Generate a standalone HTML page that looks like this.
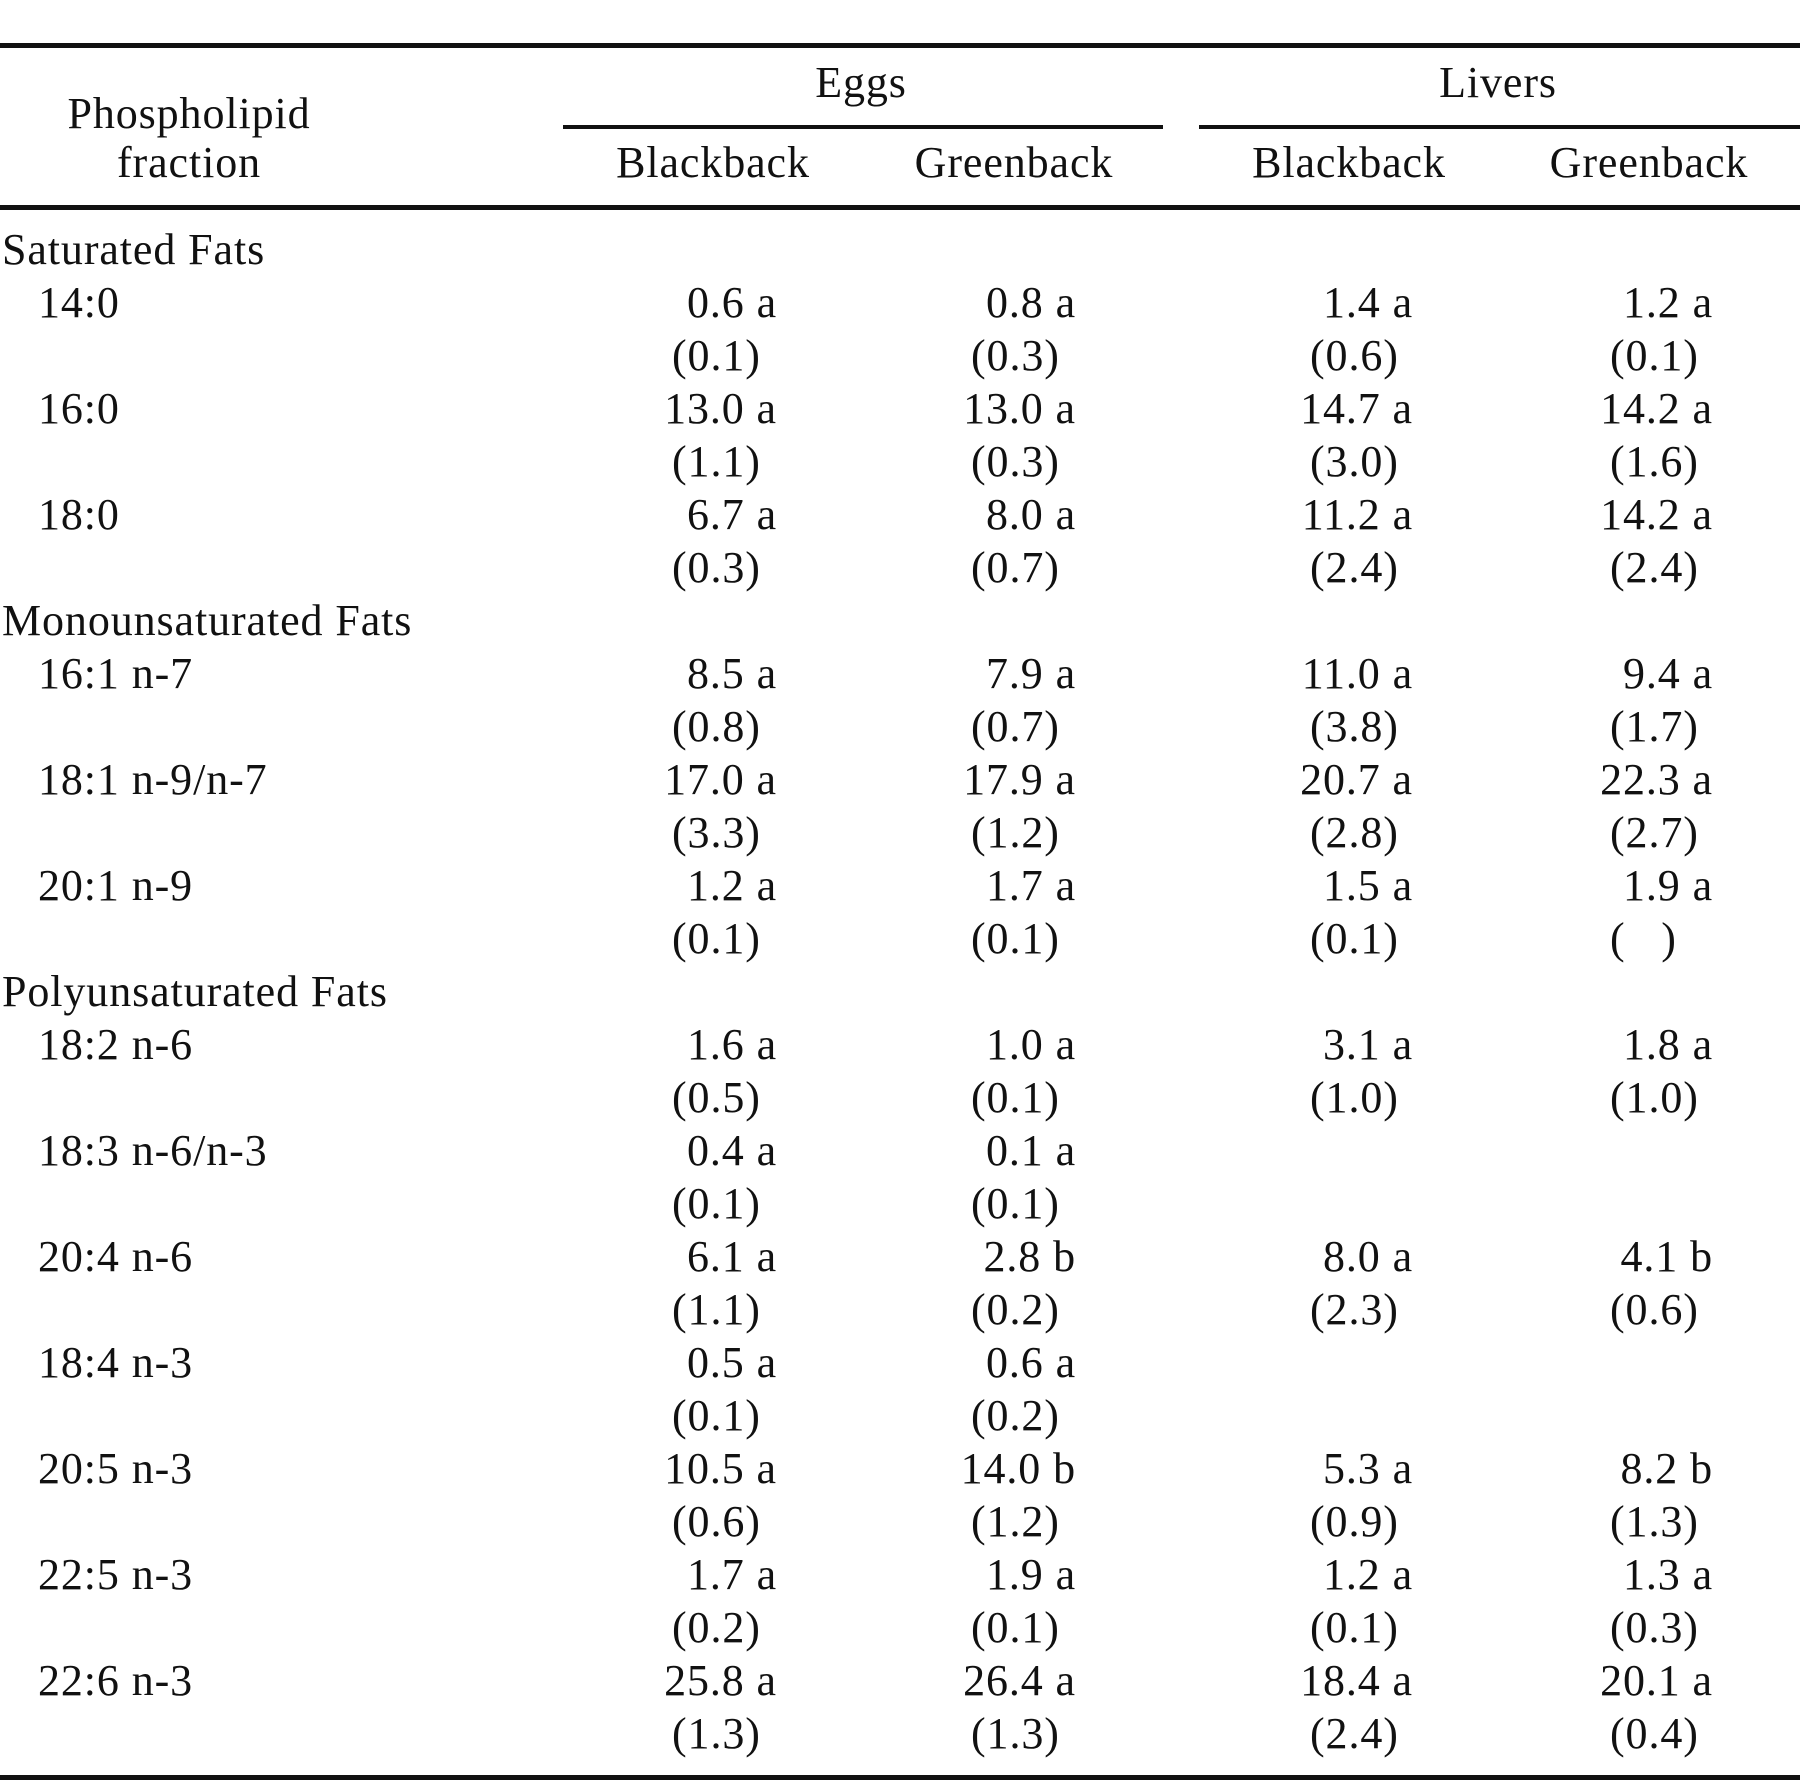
<!DOCTYPE html>
<html><head><meta charset="utf-8"><style>
html,body{margin:0;padding:0;background:#fff;}
svg{display:block;}
text{font-family:"Liberation Serif","Times New Roman",serif;font-size:44px;fill:#111;letter-spacing:0.9px;white-space:pre;}
</style></head><body>
<svg id="tbl" width="1800" height="1780" viewBox="0 0 1800 1780" xmlns="http://www.w3.org/2000/svg">
<rect x="0" y="0" width="1800" height="1780" fill="#fff"/>
<rect x="0" y="43" width="1800" height="5" fill="#111"/>
<rect x="563" y="125" width="600" height="4" fill="#111"/>
<rect x="1199" y="125" width="601" height="4" fill="#111"/>
<rect x="0" y="205" width="1800" height="5" fill="#111"/>
<rect x="0" y="1775" width="1800" height="5" fill="#111"/>
<text x="189" y="128" text-anchor="middle">Phospholipid</text>
<text x="189" y="177" text-anchor="middle">fraction</text>
<text x="861" y="97" text-anchor="middle">Eggs</text>
<text x="1498" y="97" text-anchor="middle">Livers</text>
<text x="713" y="177" text-anchor="middle">Blackback</text>
<text x="1014" y="177" text-anchor="middle">Greenback</text>
<text x="1349" y="177" text-anchor="middle">Blackback</text>
<text x="1649" y="177" text-anchor="middle">Greenback</text>
</svg>
<script>
const groups = ["Saturated Fats","Monounsaturated Fats","Polyunsaturated Fats"];
const fractions = ["14:0","16:0","18:0","16:1 n-7","18:1 n-9/n-7","20:1 n-9","18:2 n-6","18:3 n-6/n-3","20:4 n-6","18:4 n-3","20:5 n-3","22:5 n-3","22:6 n-3"];
const fractionGroup = [0,0,0,1,1,1,2,2,2,2,2,2,2];
const eggsBlack = ["0.6 a","13.0 a","6.7 a","8.5 a","17.0 a","1.2 a","1.6 a","0.4 a","6.1 a","0.5 a","10.5 a","1.7 a","25.8 a"];
const eggsBlackSE = ["(0.1)","(1.1)","(0.3)","(0.8)","(3.3)","(0.1)","(0.5)","(0.1)","(1.1)","(0.1)","(0.6)","(0.2)","(1.3)"];
const eggsGreen = ["0.8 a","13.0 a","8.0 a","7.9 a","17.9 a","1.7 a","1.0 a","0.1 a","2.8 b","0.6 a","14.0 b","1.9 a","26.4 a"];
const eggsGreenSE = ["(0.3)","(0.3)","(0.7)","(0.7)","(1.2)","(0.1)","(0.1)","(0.1)","(0.2)","(0.2)","(1.2)","(0.1)","(1.3)"];
const liversBlack = ["1.4 a","14.7 a","11.2 a","11.0 a","20.7 a","1.5 a","3.1 a","","8.0 a","","5.3 a","1.2 a","18.4 a"];
const liversBlackSE = ["(0.6)","(3.0)","(2.4)","(3.8)","(2.8)","(0.1)","(1.0)","","(2.3)","","(0.9)","(0.1)","(2.4)"];
const liversGreen = ["1.2 a","14.2 a","14.2 a","9.4 a","22.3 a","1.9 a","1.8 a","","4.1 b","","8.2 b","1.3 a","20.1 a"];
const liversGreenSE = ["(0.1)","(1.6)","(2.4)","(1.7)","(2.7)","(   )","(1.0)","","(0.6)","","(1.3)","(0.3)","(0.4)"];

const svg = document.getElementById('tbl');
const NS = 'http://www.w3.org/2000/svg';
const lineY = i => 264 + 53 * i;
function addText(x, y, s, anchor) {
  const t = document.createElementNS(NS, 'text');
  t.setAttribute('x', x); t.setAttribute('y', y);
  if (anchor) t.setAttribute('text-anchor', anchor);
  t.textContent = s;
  svg.appendChild(t);
  return t;
}
const cols = [
  {v: eggsBlack, se: eggsBlackSE, vx: 777, sx: 672, n: 'eggs-blackback'},
  {v: eggsGreen, se: eggsGreenSE, vx: 1076, sx: 971, n: 'eggs-greenback'},
  {v: liversBlack, se: liversBlackSE, vx: 1413, sx: 1310, n: 'livers-blackback'},
  {v: liversGreen, se: liversGreenSE, vx: 1713, sx: 1610, n: 'livers-greenback'}
];
let line = 0, lastGroup = -1;
fractions.forEach((f, i) => {
  if (fractionGroup[i] !== lastGroup) {
    lastGroup = fractionGroup[i];
    const g = addText(2, lineY(line), groups[lastGroup]);
    
    
    line++;
  }
  const lab = addText(38, lineY(line), f);
  
  
  cols.forEach(c => {
    if (c.v[i]) {
      const t = addText(c.vx, lineY(line), c.v[i], 'end');
      
      
    }
    if (c.se[i]) {
      const s = addText(c.sx, lineY(line + 1), c.se[i]);
      
      
    }
  });
  line += 2;
});
</script>
</body></html>
